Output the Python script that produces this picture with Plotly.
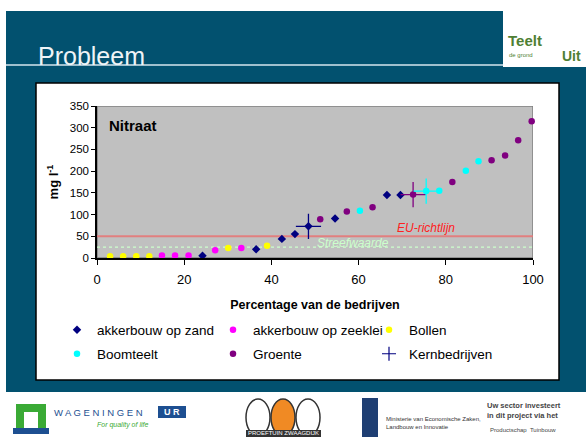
import plotly.graph_objects as go

# ---------------- data ----------------
x_zand = [24.2, 36.5, 42.4, 45.4, 48.5, 54.6, 66.5, 69.6]
y_zand = [5, 20, 44, 55, 73, 91, 145, 145]
x_zeeklei = [14.9, 17.9, 21.0, 27.1, 33.1]
y_zeeklei = [6, 6, 6, 18, 23]
x_bollen = [3.0, 6.0, 9.0, 12.0, 30.1, 39.0]
y_bollen = [4, 4, 4, 4, 23, 28]
x_boom = [60.3, 75.5, 78.5, 84.6, 87.5]
y_boom = [109, 154, 155, 201, 223]
x_groente = [51.2, 57.3, 63.2, 72.5, 81.5, 90.5, 93.6, 96.6, 99.7]
y_groente = [89, 107, 117, 146, 175, 225, 236, 271, 315]
x_kern = [48.5, 72.5, 75.5]
y_kern = [73, 146, 154]
kern_colors = ["#000080", "#800080", "#00ffff"]

EU_LIMIT = 50
TARGET = 25
x_ticks = [0, 20, 40, 60, 80, 100]
y_ticks = [0, 50, 100, 150, 200, 250, 300, 350]

FONT = "Arial, Liberation Sans, sans-serif"
TEAL = "#02516f"

# layout geometry (pixels)
W, H = 586, 437
ML, MR, MT, MB = 97, 53, 106, 179
PW, PH = W - ML - MR, H - MT - MB


def px(x):
    return (x - ML) / PW


def py(y):
    return (H - MB - y) / PH


fig = go.Figure()

fig.add_trace(go.Scatter(x=x_zand, y=y_zand, mode="markers", name="akkerbouw op zand",
                         marker=dict(symbol="diamond", size=6.5, color="#000080"),
                         legend="legend", cliponaxis=False))
fig.add_trace(go.Scatter(x=x_zeeklei, y=y_zeeklei, mode="markers", name="akkerbouw op zeeklei",
                         marker=dict(symbol="circle", size=6.5, color="#ff00ff"),
                         legend="legend", cliponaxis=False))
fig.add_trace(go.Scatter(x=x_bollen, y=y_bollen, mode="markers", name="Bollen",
                         marker=dict(symbol="circle", size=6.5, color="#ffff00"),
                         legend="legend", cliponaxis=False))
fig.add_trace(go.Scatter(x=x_boom, y=y_boom, mode="markers", name="Boomteelt",
                         marker=dict(symbol="circle", size=6.5, color="#00ffff"),
                         legend="legend2", cliponaxis=False))
fig.add_trace(go.Scatter(x=x_groente, y=y_groente, mode="markers", name="Groente",
                         marker=dict(symbol="circle", size=6.5, color="#800080"),
                         legend="legend2", cliponaxis=False))
fig.add_trace(go.Scatter(x=x_kern, y=y_kern, mode="markers", name="Kernbedrijven",
                         marker=dict(symbol="cross-thin", size=18,
                                     line=dict(color=kern_colors, width=1.3)),
                         showlegend=False, cliponaxis=False))
fig.add_trace(go.Scatter(x=[None], y=[None], mode="markers", name="Kernbedrijven",
                         marker=dict(symbol="cross-thin", size=10,
                                     line=dict(color="#000080", width=1.2)),
                         legend="legend2"))

shapes = []
# teal slide background
shapes.append(dict(type="rect", xref="paper", yref="paper", layer="below",
                   x0=px(6), x1=px(586), y0=py(392), y1=py(11),
                   fillcolor=TEAL, line=dict(width=0)))
# header underline
shapes.append(dict(type="line", xref="paper", yref="paper", layer="below",
                   x0=px(6), x1=px(503), y0=py(65), y1=py(65),
                   line=dict(color="#d6e6ee", width=1.5)))
# logo box
shapes.append(dict(type="rect", xref="paper", yref="paper", layer="below",
                   x0=px(503), x1=px(586), y0=py(67), y1=py(11),
                   fillcolor="white", line=dict(width=0)))
# white chart box
shapes.append(dict(type="rect", xref="paper", yref="paper", layer="below",
                   x0=px(36), x1=px(559), y0=py(380), y1=py(83),
                   fillcolor="white", line=dict(color="black", width=1.5)))
# grey plot area
shapes.append(dict(type="rect", xref="x", yref="y", layer="below",
                   x0=0, x1=100, y0=0, y1=350,
                   fillcolor="#c0c0c0", line=dict(color="#808080", width=1.5)))
# reference lines
shapes.append(dict(type="line", xref="x", yref="y", layer="below",
                   x0=0, x1=100, y0=EU_LIMIT, y1=EU_LIMIT,
                   line=dict(color="rgba(228,120,120,0.9)", width=2)))
shapes.append(dict(type="line", xref="x", yref="y", layer="below",
                   x0=0, x1=100, y0=TARGET, y1=TARGET,
                   line=dict(color="#ccffcc", width=1.2, dash="dot")))

# ---- footer logos (approximations) ----
# Wageningen
shapes.append(dict(type="rect", xref="paper", yref="paper", x0=px(16), x1=px(46), y0=py(428), y1=py(404),
                   fillcolor="#3aaa35", line=dict(width=0)))
shapes.append(dict(type="rect", xref="paper", yref="paper", x0=px(24), x1=px(38), y0=py(428), y1=py(412),
                   fillcolor="white", line=dict(width=0)))
shapes.append(dict(type="rect", xref="paper", yref="paper", x0=px(13), x1=px(49), y0=py(434), y1=py(428),
                   fillcolor="#1d4f91", line=dict(width=0)))
shapes.append(dict(type="rect", xref="paper", yref="paper", x0=px(158), x1=px(186), y0=py(418), y1=py(406),
                   fillcolor="#1d4f91", line=dict(width=0)))
# Proeftuin Zwaagdijk eggs
for cx, col in [(258, "white"), (283, "#f08a24"), (308, "white")]:
    shapes.append(dict(type="circle", xref="paper", yref="paper",
                       x0=px(cx - 12), x1=px(cx + 12), y0=py(436), y1=py(399),
                       fillcolor=col, line=dict(color="#333333", width=1.5)))
shapes.append(dict(type="rect", xref="paper", yref="paper", x0=px(246), x1=px(321), y0=py(437), y1=py(430),
                   fillcolor="#333333", line=dict(width=0)))
# Ministerie
shapes.append(dict(type="rect", xref="paper", yref="paper", x0=px(362), x1=px(378), y0=py(437), y1=py(398),
                   fillcolor="#1f3f73", line=dict(width=0)))

annotations = [
    dict(text="Probleem", xref="paper", yref="paper", x=px(36), y=py(56), xanchor="left",
         yanchor="middle", showarrow=False, font=dict(family=FONT, size=25, color="#eef4f7")),
    dict(text="<b>Teelt</b>", xref="paper", yref="paper", x=px(506), y=py(40), xanchor="left",
         yanchor="middle", showarrow=False, font=dict(family=FONT, size=15, color="#4f7f34")),
    dict(text="de grond", xref="paper", yref="paper", x=px(507), y=py(55), xanchor="left",
         yanchor="middle", showarrow=False, font=dict(family=FONT, size=6, color="#4f7f34")),
    dict(text="<b>Uit</b>", xref="paper", yref="paper", x=px(583), y=py(56), xanchor="right",
         yanchor="middle", showarrow=False, font=dict(family=FONT, size=14, color="#4f7f34")),
    dict(text="<b>Nitraat</b>", x=2.4, y=305, xanchor="left", yanchor="middle", showarrow=False,
         font=dict(family=FONT, size=15, color="black")),
    dict(text="<i>EU-richtlijn</i>", x=75.5, y=69, xanchor="center", yanchor="middle", showarrow=False,
         font=dict(family=FONT, size=12, color="#ff2020")),
    dict(text="<i>Streefwaarde</i>", x=58.6, y=34.5, xanchor="center", yanchor="middle", showarrow=False,
         font=dict(family=FONT, size=12, color="#ccffcc")),
    dict(text="W A G E N I N G E N", xref="paper", yref="paper", x=px(52), y=py(412), xanchor="left",
         yanchor="middle", showarrow=False, font=dict(family=FONT, size=9.5, color="#1d4f91")),
    dict(text="<b>U R</b>", xref="paper", yref="paper", x=px(172), y=py(412), xanchor="center",
         yanchor="middle", showarrow=False, font=dict(family=FONT, size=9, color="white")),
    dict(text="<i>For quality of life</i>", xref="paper", yref="paper", x=px(95), y=py(425), xanchor="left",
         yanchor="middle", showarrow=False, font=dict(family=FONT, size=7, color="#3aaa35")),
    dict(text="PROEFTUIN ZWAAGDIJK", xref="paper", yref="paper", x=px(283), y=py(433), xanchor="center",
         yanchor="middle", showarrow=False, font=dict(family=FONT, size=6, color="white")),
    dict(text="Ministerie van Economische Zaken,<br>Landbouw en Innovatie", xref="paper", yref="paper",
         x=px(384), y=py(423), xanchor="left", yanchor="middle", showarrow=False, align="left",
         font=dict(family=FONT, size=6, color="#333333")),
    dict(text="<b>Uw sector investeert<br>in dit project via het</b>", xref="paper", yref="paper",
         x=px(485), y=py(410), xanchor="left", yanchor="middle", showarrow=False, align="left",
         font=dict(family=FONT, size=7.5, color="#444444")),
    dict(text="Productschap  Tuinbouw", xref="paper", yref="paper", x=px(523), y=py(430),
         xanchor="center", yanchor="middle", showarrow=False,
         font=dict(family=FONT, size=6, color="#444444")),
]

fig.update_layout(
    width=W, height=H, autosize=False,
    margin=dict(l=ML, r=MR, t=MT, b=MB, pad=0),
    paper_bgcolor="white", plot_bgcolor="rgba(0,0,0,0)",
    font=dict(family=FONT, color="black"),
    shapes=shapes, annotations=annotations,
    xaxis=dict(range=[0, 100], tickvals=x_ticks, showgrid=False, zeroline=False,
               showline=True, linecolor="black", linewidth=1.5,
               ticks="outside", ticklen=5, tickwidth=1, tickcolor="black",
               ticklabelstandoff=4,
               tickfont=dict(family=FONT, size=13, color="black"),
               title=dict(text="<b>Percentage van de bedrijven</b>", standoff=14,
                          font=dict(family=FONT, size=12.5, color="black"))),
    yaxis=dict(range=[0, 350], tickvals=y_ticks, showgrid=False, zeroline=False,
               showline=True, linecolor="black", linewidth=1.5,
               ticks="outside", ticklen=4, tickwidth=1, tickcolor="black",
               tickfont=dict(family=FONT, size=11.5, color="black"),
               title=dict(text="<b>mg l<sup>-1</sup></b>", standoff=8,
                          font=dict(family=FONT, size=13, color="black"))),
    legend=dict(orientation="h", x=px(57), y=py(330), xanchor="left", yanchor="middle",
                entrywidth=111, entrywidthmode="pixels", bgcolor="rgba(0,0,0,0)",
                font=dict(family=FONT, size=13.5, color="black"), tracegroupgap=0),
    legend2=dict(orientation="h", x=px(57), y=py(354), xanchor="left", yanchor="middle",
                 entrywidth=111, entrywidthmode="pixels", bgcolor="rgba(0,0,0,0)",
                 font=dict(family=FONT, size=13.5, color="black"), tracegroupgap=0),
)

fig.write_html("out.html", config={"displayModeBar": False},
               post_script="document.body.style.margin='0';document.body.style.overflow='hidden';")
